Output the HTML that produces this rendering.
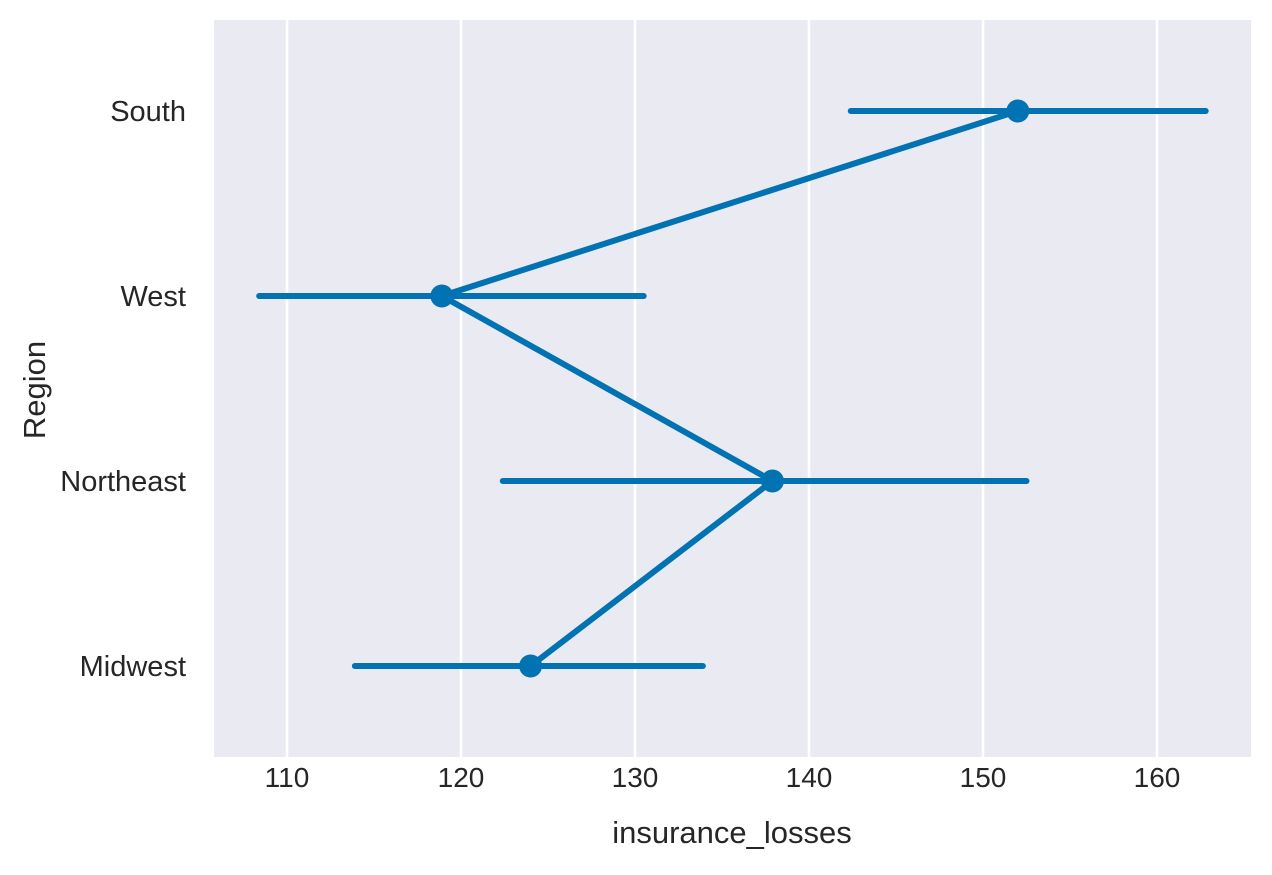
<!DOCTYPE html>
<html><head><meta charset="utf-8"><style>
body{margin:0;background:#fff}
svg text{font-family:"Liberation Sans",Arial,sans-serif;fill:#262626}
</style></head><body>
<svg width="1272" height="870" id="chart">
<rect x="214" y="20" width="1037" height="737" fill="#eaeaf2"/>
<g id="grid"></g><g id="marks"></g><g id="labels"></g>
<text x="732" y="843" text-anchor="middle" font-size="31">insurance_losses</text>
<text transform="translate(45,390) rotate(-90)" text-anchor="middle" font-size="31">Region</text>
</svg>
<script>
const categories=["South","West","Northeast","Midwest"];
const means=[152.0,118.9,137.9,124.0];
const ciLow=[142.4,108.4,122.4,113.9];
const ciHigh=[162.8,130.5,152.5,133.9];
const xTicks=[110,120,130,140,150,160];
const NS="http://www.w3.org/2000/svg";
const xs=v=>287+(v-110)*17.4;
const ys=i=>111+i*185;
const grid=document.getElementById('grid'),marks=document.getElementById('marks'),labels=document.getElementById('labels');
function mk(tag,attrs,parent){const e=document.createElementNS(NS,tag);for(const k in attrs)e.setAttribute(k,attrs[k]);parent.appendChild(e);return e;}
xTicks.forEach(t=>{
 const l=mk('line',{x1:xs(t),x2:xs(t),y1:20,y2:757,stroke:'#fff','stroke-width':2.5},grid);
 
 
 const tx=mk('text',{x:xs(t),y:787,'text-anchor':'middle','font-size':28},labels);
 tx.textContent=t;
 
 
});
categories.forEach((c,i)=>{
 const tx=mk('text',{x:186,y:ys(i)+10,'text-anchor':'end','font-size':29},labels);
 tx.textContent=c;
 
 
 const e=mk('line',{x1:xs(ciLow[i]),x2:xs(ciHigh[i]),y1:ys(i),y2:ys(i),stroke:'#0173b2','stroke-width':6,'stroke-linecap':'round'},marks);
 
 
});
const pts=means.map((m,i)=>xs(m)+','+ys(i)).join(' ');
const pl=mk('polyline',{points:pts,fill:'none',stroke:'#0173b2','stroke-width':6,'stroke-linejoin':'round'},marks);


means.forEach((m,i)=>{
 const c=mk('circle',{cx:xs(m),cy:ys(i),r:11.5,fill:'#0173b2'},marks);
 
 
});
</script>
</body></html>
